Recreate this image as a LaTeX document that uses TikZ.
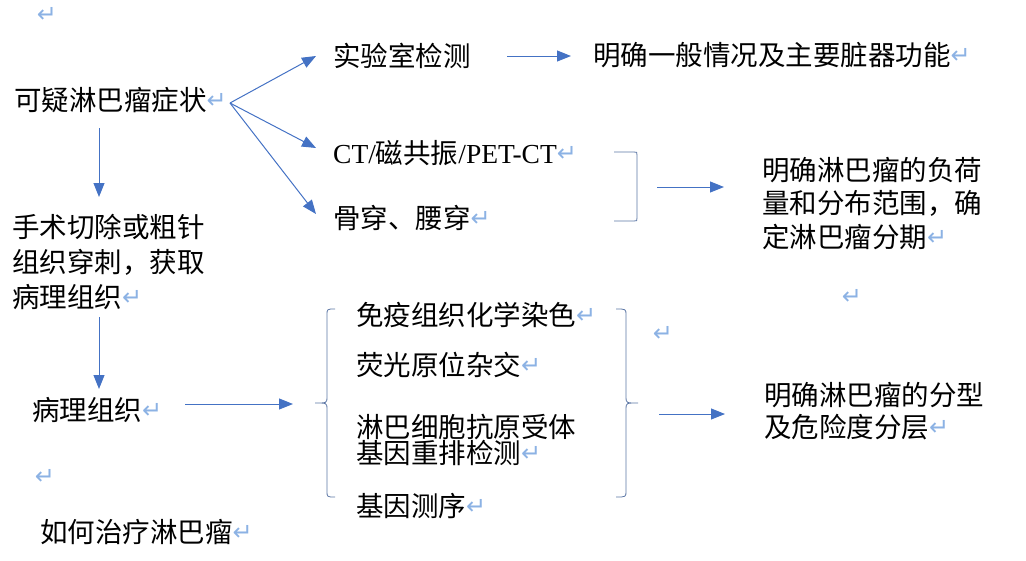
\documentclass[tikz,border=0pt]{standalone}
\usepackage{fontspec}
\setmainfont{Noto Sans CJK SC}
\newfontfamily\latfont{Liberation Serif}
\newfontfamily\dvfont{DejaVu Sans}
\usetikzlibrary{arrows.meta}
\definecolor{arrc}{RGB}{68,114,196}
\definecolor{brkc}{RGB}{92,118,165}
\definecolor{retc}{RGB}{140,178,228}
\newcommand{\retmark}{{\dvfont\fontsize{24}{24}\selectfont\color{retc}\raisebox{2pt}{↵}}}
\begin{document}
\begin{tikzpicture}[x=1pt,y=-1pt,
  txt/.style={anchor=base west,inner sep=0pt,font=\fontsize{27.5}{27.5}\selectfont},
  retnode/.style={inner sep=0pt,font=\dvfont\fontsize{24}{24}\selectfont,text=retc},
  arrline/.style={draw=arrc,line width=1pt,-{Triangle[length=14pt,width=11pt]}},
  brkline/.style={draw=brkc,line width=0.8pt}]
\useasboundingbox (0,0) rectangle (1026,560);

% paragraph marks standing alone
\node[retnode] (r1) at (47,15) {↵};
\node[retnode] (r2) at (852,297) {↵};
\node[retnode] (r3) at (663,334) {↵};
\node[retnode] (r4) at (45,477) {↵};

% left column
\node[txt] (sym) at (14,110) {可疑淋巴瘤症状\retmark};
\node[txt] (op1) at (12,237) {手术切除或粗针};
\node[txt] (op2) at (12,272) {组织穿刺，获取};
\node[txt] (op3) at (12,307) {病理组织\retmark};
\node[txt] (path) at (32,420) {病理组织\retmark};
\node[txt] (treat) at (40,542) {如何治疗淋巴瘤\retmark};

% upper branch
\node[txt] (lab) at (333,66) {实验室检测};
\node[txt] (labres) at (593,65) {明确一般情况及主要脏器功能\retmark};
\node[txt] (ct) at (333,163) {{\latfont CT/}磁共振{\latfont /PET-CT}\retmark};
\node[txt] (bone) at (333,228) {骨穿、腰穿\retmark};
\node[txt] (st1) at (762,180) {明确淋巴瘤的负荷};
\node[txt] (st2) at (762,213) {量和分布范围，确};
\node[txt] (st3) at (762,247) {定淋巴瘤分期\retmark};

% lower branch
\node[txt] (ihc) at (356,325) {免疫组织化学染色\retmark};
\node[txt] (fish) at (356,375) {荧光原位杂交\retmark};
\node[txt] (gr1) at (356,437) {淋巴细胞抗原受体};
\node[txt] (gr2) at (356,463) {基因重排检测\retmark};
\node[txt] (seq) at (356,516) {基因测序\retmark};
\node[txt] (ty1) at (764,405) {明确淋巴瘤的分型};
\node[txt] (ty2) at (764,437) {及危险度分层\retmark};

% connector end points
\coordinate (fan) at (230,103);
\coordinate (tLab) at (316,56);
\coordinate (tCt) at (316,148);
\coordinate (tBone) at (316,214);
\coordinate (aS) at (507,56);
\coordinate (aE) at (571,56);
\coordinate (v1s) at (99,128);
\coordinate (v1e) at (99,197);
\coordinate (v2s) at (99,317);
\coordinate (v2e) at (99,389);
\coordinate (hS) at (185,404);
\coordinate (hE) at (293,404);
\coordinate (bS) at (657,187);
\coordinate (bE) at (724,187);
\coordinate (cS) at (659,414);
\coordinate (cE) at (725,414);

\draw[arrline] (fan) -- (tLab);
\draw[arrline] (fan) -- (tCt);
\draw[arrline] (fan) -- (tBone);
\draw[arrline] (aS) -- (aE);
\draw[arrline] (v1s) -- (v1e);
\draw[arrline] (v2s) -- (v2e);
\draw[arrline] (hS) -- (hE);
\draw[arrline] (bS) -- (bE);
\draw[arrline] (cS) -- (cE);

% bracket joining CT and bone marrow
\draw[brkline] (614,152) -- (634,152) .. controls (637,152) .. (637,155) -- (637,218) .. controls (637,221) .. (634,221) -- (614,221);

% left brace
\draw[brkline] (335,309) .. controls (327,309) .. (327,315) -- (327,397)
  .. controls (327,403) .. (315,403) .. controls (327,403) .. (327,409)
  -- (327,491) .. controls (327,497) .. (335,497);
% right brace
\draw[brkline] (616,309) .. controls (626,309) .. (626,315) -- (626,397)
  .. controls (626,403) .. (638,403) .. controls (626,403) .. (626,409)
  -- (626,491) .. controls (626,497) .. (616,497);
\end{tikzpicture}
\end{document}
